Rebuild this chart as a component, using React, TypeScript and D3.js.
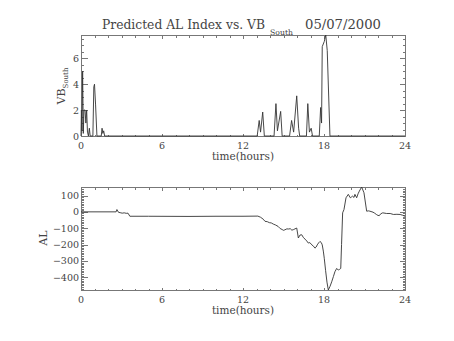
import React, { useEffect, useRef } from 'react';
import * as d3 from 'd3';

// VB south (top panel), hours vs value
const vbTime = [
  0, 0.03, 0.07, 0.12, 0.17, 0.22, 0.3, 0.36, 0.42, 0.48, 0.55, 0.62, 0.68,
  0.88, 0.95, 1.0, 1.08, 1.18, 1.5, 1.56, 1.62, 1.68, 1.75,
  13.05, 13.2, 13.3, 13.46, 13.58, 14.3, 14.44, 14.55, 14.79, 14.9,
  15.45, 15.6, 15.75, 15.98, 16.12, 16.2, 16.7, 16.8, 16.92, 17.05, 17.15,
  17.65, 17.75, 17.82, 17.87, 18.02, 18.13, 18.24, 18.44, 24,
];
const vbValue = [
  0, 2.0, 0.4, 5.0, 0.2, 2.0, 2.0, 1.0, 2.0, 0.3, 0, 0.6, 0,
  0, 3.8, 4.0, 2.4, 0, 0, 0.6, 0.2, 0.4, 0,
  0, 1.2, 0.3, 1.85, 0, 0, 2.5, 0.4, 1.9, 0,
  0, 1.2, 0.3, 3.1, 0.6, 0, 0, 2.5, 0.3, 0.6, 0,
  0, 2.2, 1.0, 6.9, 7.3, 7.8, 6.6, 0, 0,
];

// predicted AL index (bottom panel)
const alTime = [
  0, 2.6, 2.66, 2.78, 2.9, 3.05, 3.2, 3.35, 3.48, 3.62, 5, 8, 10, 12,
  13.1, 13.3, 13.5, 13.63, 13.8, 13.95, 14.1, 14.25, 14.4, 14.6, 14.75, 14.9, 14.99,
  15.1, 15.25, 15.36, 15.5, 15.62, 15.73, 15.85, 15.98, 16.1, 16.22, 16.35, 16.48,
  16.6, 16.72, 16.84, 16.95, 17.1, 17.22, 17.33, 17.42, 17.5, 17.6, 17.7, 17.8,
  17.87, 17.95, 18.02, 18.12, 18.22, 18.32, 18.45, 18.57, 18.7, 18.81, 18.94,
  19.06, 19.15, 19.24, 19.3, 19.38, 19.48, 19.63, 19.8, 19.95, 20.05, 20.12,
  20.22, 20.29, 20.42, 20.52, 20.62, 20.79, 20.96, 21.16, 21.3, 21.4, 21.63,
  21.75, 21.88, 22.0, 22.1, 22.2, 22.35, 22.64, 22.9, 23.14, 23.4, 23.64, 23.8, 24,
];
const alValue = [
  0, 0, 14, -3, -5, -8, -6, -9, -8, -27, -27, -28, -27, -27,
  -26, -33, -45, -58, -60, -66, -68, -75, -80, -89, -102, -108, -113,
  -110, -104, -105, -103, -112, -109, -104, -99, -160, -142, -140, -158,
  -167, -178, -191, -188, -202, -210, -222, -215, -202, -190, -181, -188,
  -202, -240, -284, -360, -430, -478, -455, -428, -395, -366, -346,
  -356, -352, -346, -200, -6, 14, 86, 107, 86, 92, 96,
  88, 107, 86, 110, 127, 152, 117, 4, 6, 4, -2,
  -8, -16, -22, -23, -12, -6, -10, -10, -16, -15, -16, -20, -27,
];

const xTicks = [0, 6, 12, 18, 24];
const vbTicks = [0, 2, 4, 6];
const alTicks = [-400, -300, -200, -100, 0, 100];

const W = 454;
const H = 341;
const FONT = 'DejaVu Serif';
const INK = '#444';

const App: React.FC = () => {
  const svgRef = useRef<SVGSVGElement | null>(null);

  useEffect(() => {
    const svg = d3.select(svgRef.current);
    svg.selectAll('*').remove();

    const left = 81;
    const right = 405;
    const x = d3.scaleLinear().domain([0, 24]).range([left, right]);

    const drawPanel = (
      top: number,
      bottom: number,
      yScale: d3.ScaleLinear<number, number>,
      majors: number[],
      minorStep: number,
      times: number[],
      values: number[],
    ) => {
      const g = svg.append('g');
      g.append('rect')
        .attr('x', left + 0.5)
        .attr('y', top + 0.5)
        .attr('width', right - left)
        .attr('height', bottom - top)
        .attr('fill', 'none')
        .attr('stroke', '#777')
        .attr('shape-rendering', 'crispEdges');

      // x ticks, inward on top and bottom
      const xMinor = d3.range(0, 25, 1);
      xMinor.forEach((t) => {
        const len = t % 6 === 0 ? 2.5 : 1.5;
        const px = Math.round(x(t)) + 0.5;
        g.append('line').attr('x1', px).attr('x2', px).attr('y1', bottom).attr('y2', bottom - len)
          .attr('stroke', '#777').attr('shape-rendering', 'crispEdges');
        g.append('line').attr('x1', px).attr('x2', px).attr('y1', top + 1).attr('y2', top + 1 + len)
          .attr('stroke', '#777').attr('shape-rendering', 'crispEdges');
      });

      // y ticks, inward on left and right
      const [d0, d1] = yScale.domain();
      const yMinor = d3.range(Math.ceil(d0 / minorStep) * minorStep, d1 + 1e-9, minorStep);
      yMinor.forEach((v) => {
        const isMajor = majors.some((m) => Math.abs(m - v) < 1e-6);
        const len = isMajor ? 6.5 : 3.2;
        const py = Math.round(yScale(v)) + 0.5;
        g.append('line').attr('x1', left).attr('x2', left + len).attr('y1', py).attr('y2', py)
          .attr('stroke', '#777').attr('shape-rendering', 'crispEdges');
        g.append('line').attr('x1', right + 1).attr('x2', right + 1 - len).attr('y1', py).attr('y2', py)
          .attr('stroke', '#777').attr('shape-rendering', 'crispEdges');
      });

      g.selectAll('text.xt')
        .data(xTicks)
        .enter()
        .append('text')
        .attr('x', (d) => x(d))
        .attr('y', bottom + 13)
        .attr('text-anchor', 'middle')
        .attr('font-family', FONT)
        .attr('font-size', 9.5)
        .attr('fill', INK)
        .text((d) => d);

      g.selectAll('text.yt')
        .data(majors)
        .enter()
        .append('text')
        .attr('x', left - 2)
        .attr('y', (d) => yScale(d) + 3.5)
        .attr('text-anchor', 'end')
        .attr('font-family', FONT)
        .attr('font-size', 9.5)
        .attr('fill', INK)
        .text((d) => (d < 0 ? '\u2212' + Math.abs(d) : String(d)));

      g.append('text')
        .attr('x', (left + right) / 2)
        .attr('y', bottom + 24)
        .attr('text-anchor', 'middle')
        .attr('font-family', FONT)
        .attr('font-size', 10.5)
        .attr('fill', INK)
        .text('time(hours)');

      const line = d3
        .line<number>()
        .x((_, i) => x(times[i]))
        .y((d) => yScale(d));
      g.append('path')
        .attr('d', line(values) || '')
        .attr('fill', 'none')
        .attr('stroke', '#333')
        .attr('stroke-width', 0.9);
    };

    const yVb = d3.scaleLinear().domain([0, 7.8]).range([136, 35]);
    const yAl = d3.scaleLinear().domain([-478, 152]).range([290, 187]);

    drawPanel(35, 136, yVb, vbTicks, 0.5, vbTime, vbValue);
    drawPanel(187, 290, yAl, alTicks, 10, alTime, alValue);

    // title
    const title = svg.append('text')
      .attr('font-family', FONT)
      .attr('fill', INK)
      .attr('y', 29);
    title.append('tspan').attr('x', 102).attr('font-size', 13)
      .attr('textLength', 163).attr('lengthAdjust', 'spacingAndGlyphs')
      .text('Predicted AL Index vs. VB');
    title.append('tspan').attr('x', 270).attr('dy', 6).attr('font-size', 7.5)
      .attr('textLength', 23).attr('lengthAdjust', 'spacingAndGlyphs')
      .text('South');
    title.append('tspan').attr('x', 305).attr('dy', -6).attr('font-size', 13)
      .attr('textLength', 76).attr('lengthAdjust', 'spacingAndGlyphs')
      .text('05/07/2000');

    // y labels
    const vbLabel = svg.append('text')
      .attr('transform', 'translate(65, 86) rotate(-90)')
      .attr('text-anchor', 'middle')
      .attr('font-family', FONT)
      .attr('fill', INK);
    vbLabel.append('tspan').attr('font-size', 11).text('VB');
    vbLabel.append('tspan').attr('font-size', 7).attr('dy', 3).text('South');

    svg.append('text')
      .attr('transform', 'translate(47, 238) rotate(-90)')
      .attr('text-anchor', 'middle')
      .attr('font-family', FONT)
      .attr('font-size', 11)
      .attr('fill', INK)
      .text('AL');
  }, []);

  return (
    <svg
      ref={svgRef}
      width={W}
      height={H}
      style={{ position: 'absolute', left: 0, top: 0, background: '#fff' }}
    ></svg>
  );
};

export default App;
